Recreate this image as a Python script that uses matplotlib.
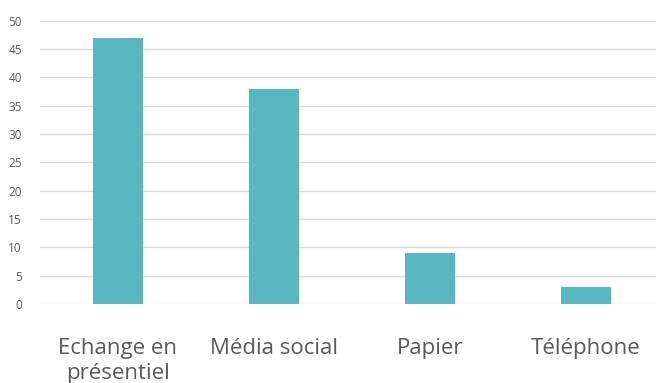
import matplotlib
matplotlib.use("Agg")
import matplotlib.pyplot as plt

categories = ["Echange en\nprésentiel", "Média social", "Papier", "Téléphone"]
values = [47, 38, 9, 3]
yticks = [0, 5, 10, 15, 20, 25, 30, 35, 40, 45, 50]

plt.rcParams['font.family'] = ['Open Sans', 'DejaVu Sans']

fig = plt.figure(figsize=(6.56, 3.83), dpi=100)
W, H = 656, 383
left, right = 40, 664
bottom, top = 304, 20.7
ax = fig.add_axes([left / W, (H - bottom) / H, (right - left) / W, (bottom - top) / H])

x = list(range(len(categories)))
ax.bar(x, values, width=0.317, color='#5AB6BF', zorder=3)
ax.set_xlim(-0.5, len(categories) - 0.5)
ax.set_ylim(0, 50)
ax.set_yticks(yticks)
ax.set_yticklabels([str(t) for t in yticks], fontsize=8.5, color='#595959')
ax.set_xticks(x)
ax.set_xticklabels(categories, fontsize=16, color='#595959', linespacing=1.25)
ax.tick_params(axis='x', length=0, pad=24.5)
ax.tick_params(axis='y', length=0, pad=13)
ax.grid(axis='y', color='#d9d9d9', linewidth=1, zorder=0)
for s in ax.spines.values():
    s.set_visible(False)

fig.savefig("out.png", dpi=100)
